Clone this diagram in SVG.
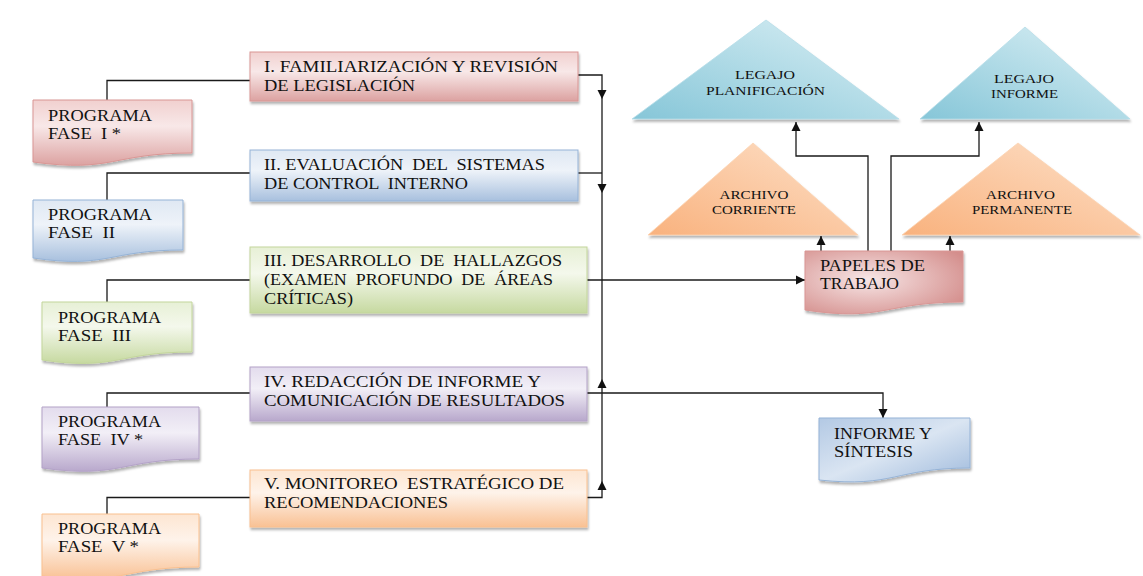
<svg xmlns="http://www.w3.org/2000/svg" width="1143" height="576" viewBox="0 0 1143 576">
<defs>
<style>
.t{font-family:"Liberation Serif","Times New Roman",serif;font-size:16px;fill:#111;}
.s{font-family:"Liberation Serif","Times New Roman",serif;font-size:13.5px;fill:#111;text-anchor:middle;}
.c{fill:none;stroke:#1a1a1a;stroke-width:1.3;}
.r{fill:url(#gRed);stroke:#d99694;stroke-width:1;filter:url(#sh);}
.b{fill:url(#gBlue);stroke:#95b3d7;stroke-width:1;filter:url(#sh);}
.g{fill:url(#gGreen);stroke:#c3d69b;stroke-width:1;filter:url(#sh);}
.p{fill:url(#gPurple);stroke:#b3a2c7;stroke-width:1;filter:url(#sh);}
.o{fill:url(#gOrange);stroke:#fac08f;stroke-width:1;filter:url(#sh);}
.aq{fill:url(#gAqua);stroke:#b6dde8;stroke-width:0.8;filter:url(#sh);}
.ot{fill:url(#gTri);stroke:#fbd4b4;stroke-width:0.8;filter:url(#sh);}
</style>
<filter id="sh" x="-10%" y="-10%" width="125%" height="135%">
<feDropShadow dx="1" dy="2.5" stdDeviation="1.2" flood-color="#000" flood-opacity="0.3"/>
</filter>
<linearGradient id="gRed" x1="0" y1="0" x2="0" y2="1"><stop offset="0" stop-color="#f1d0cf"/><stop offset="0.4" stop-color="#f8e8e8"/><stop offset="1" stop-color="#dca2a1"/></linearGradient>
<linearGradient id="gBlue" x1="0" y1="0" x2="0" y2="1"><stop offset="0" stop-color="#dfe8f3"/><stop offset="0.4" stop-color="#eef3f9"/><stop offset="1" stop-color="#a8c0de"/></linearGradient>
<linearGradient id="gGreen" x1="0" y1="0" x2="0" y2="1"><stop offset="0" stop-color="#e7f0d6"/><stop offset="0.4" stop-color="#f4f8ec"/><stop offset="1" stop-color="#c6d9a0"/></linearGradient>
<linearGradient id="gPurple" x1="0" y1="0" x2="0" y2="1"><stop offset="0" stop-color="#e3dced"/><stop offset="0.4" stop-color="#f2eff7"/><stop offset="1" stop-color="#b8a8cc"/></linearGradient>
<linearGradient id="gOrange" x1="0" y1="0" x2="0" y2="1"><stop offset="0" stop-color="#fde6d2"/><stop offset="0.4" stop-color="#fef3ea"/><stop offset="1" stop-color="#f9c194"/></linearGradient>
<linearGradient id="gAqua" x1="0" y1="1" x2="1" y2="0"><stop offset="0" stop-color="#86c6d8"/><stop offset="1" stop-color="#dcf0f5"/></linearGradient>
<linearGradient id="gTri" x1="0" y1="1" x2="1" y2="0"><stop offset="0" stop-color="#f9b27e"/><stop offset="1" stop-color="#fde0c8"/></linearGradient>
<radialGradient id="gPap" cx="0.4" cy="0.45" r="0.7"><stop offset="0" stop-color="#f7e6e6"/><stop offset="1" stop-color="#d48e8c"/></radialGradient>
<linearGradient id="gInf" x1="0" y1="0" x2="1" y2="1"><stop offset="0" stop-color="#b3c9e4"/><stop offset="0.5" stop-color="#dae5f2"/><stop offset="1" stop-color="#9fbadc"/></linearGradient>
<marker id="ar" markerUnits="userSpaceOnUse" markerWidth="10" markerHeight="10" viewBox="0 0 10 10" refX="9" refY="5" orient="auto">
<path d="M0,0.5 L9,5 L0,9.5 Z" fill="#111"/>
</marker>
</defs>
<rect width="1143" height="576" fill="#fff"/>

<g id="connectors">
<path class="c" d="M107,100 V80.5 H250"/>
<path class="c" d="M107,200 V173 H250"/>
<path class="c" d="M107,302 V280 H250"/>
<path class="c" d="M107,407 V393 H250"/>
<path class="c" d="M107,514 V497.5 H250"/>
<path class="c" d="M578,75 H602 V99" marker-end="url(#ar)"/>
<path class="c" d="M602,99 V193" marker-end="url(#ar)"/>
<path class="c" d="M602,193 V280"/>
<path class="c" d="M578,173 H602"/>
<path class="c" d="M587,497.5 H602 V481" marker-end="url(#ar)"/>
<path class="c" d="M602,481 V379" marker-end="url(#ar)"/>
<path class="c" d="M602,379 V280"/>
<path class="c" d="M587,280 H805" marker-end="url(#ar)"/>
<path class="c" d="M587,393 H883 V418" marker-end="url(#ar)"/>
<path class="c" d="M868,251 V156 H796 V122" marker-end="url(#ar)"/>
<path class="c" d="M891,251 V156 H979 V122" marker-end="url(#ar)"/>
<path class="c" d="M821,251 V236" marker-end="url(#ar)"/>
<path class="c" d="M950,251 V236" marker-end="url(#ar)"/>
</g>

<g id="fase1">
<rect class="r" x="250" y="52" width="328" height="49"/>
<text class="t" x="264" y="72" textLength="294" lengthAdjust="spacingAndGlyphs">I. FAMILIARIZACIÓN Y REVISIÓN</text>
<text class="t" x="264" y="91" textLength="151" lengthAdjust="spacingAndGlyphs">DE LEGISLACIÓN</text>
</g>
<g id="fase2">
<rect class="b" x="250" y="150" width="328" height="51"/>
<text class="t" x="264" y="170" textLength="281" lengthAdjust="spacingAndGlyphs" xml:space="preserve">II. EVALUACIÓN  DEL  SISTEMAS</text>
<text class="t" x="264" y="189" textLength="204" lengthAdjust="spacingAndGlyphs" xml:space="preserve">DE CONTROL  INTERNO</text>
</g>
<g id="fase3">
<rect class="g" x="250" y="247" width="337" height="66"/>
<text class="t" x="264" y="266" textLength="298" lengthAdjust="spacingAndGlyphs" xml:space="preserve">III. DESARROLLO  DE  HALLAZGOS</text>
<text class="t" x="264" y="285" textLength="289" lengthAdjust="spacingAndGlyphs" xml:space="preserve">(EXAMEN  PROFUNDO  DE  ÁREAS</text>
<text class="t" x="264" y="304" textLength="89" lengthAdjust="spacingAndGlyphs">CRÍTICAS)</text>
</g>
<g id="fase4">
<rect class="p" x="250" y="367" width="337" height="54"/>
<text class="t" x="264" y="387" textLength="277" lengthAdjust="spacingAndGlyphs">IV. REDACCIÓN DE INFORME Y</text>
<text class="t" x="264" y="406" textLength="301" lengthAdjust="spacingAndGlyphs">COMUNICACIÓN DE RESULTADOS</text>
</g>
<g id="fase5">
<rect class="o" x="250" y="470" width="337" height="57"/>
<text class="t" x="264" y="489" textLength="300" lengthAdjust="spacingAndGlyphs" xml:space="preserve">V. MONITOREO  ESTRATÉGICO DE</text>
<text class="t" x="264" y="508" textLength="184" lengthAdjust="spacingAndGlyphs">RECOMENDACIONES</text>
</g>

<g id="prog1">
<path class="r" d="M33,100 H192 V153 C112.5,153 112.5,173 33,162 Z"/>
<text class="t" x="48" y="121" textLength="104" lengthAdjust="spacingAndGlyphs">PROGRAMA</text>
<text class="t" x="48" y="139" textLength="73" lengthAdjust="spacingAndGlyphs" xml:space="preserve">FASE  I *</text>
</g>
<g id="prog2">
<path class="b" d="M33,200 H183 V250 C108,250 108,269 33,258 Z"/>
<text class="t" x="48" y="220" textLength="104" lengthAdjust="spacingAndGlyphs">PROGRAMA</text>
<text class="t" x="48" y="238" textLength="67" lengthAdjust="spacingAndGlyphs" xml:space="preserve">FASE  II</text>
</g>
<g id="prog3">
<path class="g" d="M42,302 H192 V352 C117,352 117,371 42,360 Z"/>
<text class="t" x="58" y="323" textLength="103" lengthAdjust="spacingAndGlyphs">PROGRAMA</text>
<text class="t" x="58" y="341" textLength="73" lengthAdjust="spacingAndGlyphs" xml:space="preserve">FASE  III</text>
</g>
<g id="prog4">
<path class="p" d="M42,407 H199 V459 C120.5,459 120.5,479 42,468 Z"/>
<text class="t" x="58" y="427" textLength="103" lengthAdjust="spacingAndGlyphs">PROGRAMA</text>
<text class="t" x="58" y="445" textLength="85" lengthAdjust="spacingAndGlyphs" xml:space="preserve">FASE  IV *</text>
</g>
<g id="prog5">
<path class="o" d="M42,514 H199 V567 C120.5,567 120.5,587 42,576 Z"/>
<text class="t" x="58" y="534" textLength="103" lengthAdjust="spacingAndGlyphs">PROGRAMA</text>
<text class="t" x="58" y="552" textLength="81" lengthAdjust="spacingAndGlyphs" xml:space="preserve">FASE  V *</text>
</g>

<g id="legajo-planificacion">
<polygon class="aq" points="766,20 899,119 632,119"/>
<text class="s" x="765" y="79" textLength="60" lengthAdjust="spacingAndGlyphs">LEGAJO</text>
<text class="s" x="765.5" y="95" textLength="119" lengthAdjust="spacingAndGlyphs">PLANIFICACIÓN</text>
</g>
<g id="legajo-informe">
<polygon class="aq" points="1025,27 1130,119 920,119"/>
<text class="s" x="1024" y="83" textLength="60" lengthAdjust="spacingAndGlyphs">LEGAJO</text>
<text class="s" x="1024.5" y="98" textLength="67" lengthAdjust="spacingAndGlyphs">INFORME</text>
</g>
<g id="archivo-corriente">
<polygon class="ot" points="753,143 858,235 648,235"/>
<text class="s" x="754" y="199" textLength="69" lengthAdjust="spacingAndGlyphs">ARCHIVO</text>
<text class="s" x="754" y="214" textLength="84" lengthAdjust="spacingAndGlyphs">CORRIENTE</text>
</g>
<g id="archivo-permanente">
<polygon class="ot" points="1018,143 1140,235 902,235"/>
<text class="s" x="1020.5" y="199" textLength="69" lengthAdjust="spacingAndGlyphs">ARCHIVO</text>
<text class="s" x="1022" y="214" textLength="100" lengthAdjust="spacingAndGlyphs">PERMANENTE</text>
</g>

<g id="papeles">
<path d="M805,251 H963 V302 C884,302 884,322 805,310 Z" fill="url(#gPap)" stroke="#d99694" stroke-width="1" filter="url(#sh)"/>
<text class="t" x="820" y="271" textLength="105" lengthAdjust="spacingAndGlyphs">PAPELES DE</text>
<text class="t" x="820" y="289" textLength="79" lengthAdjust="spacingAndGlyphs">TRABAJO</text>
</g>
<g id="informe-sintesis">
<path d="M819,418 H970 V468 C894.5,468 894.5,488 819,480 Z" fill="url(#gInf)" stroke="#95b3d7" stroke-width="1" filter="url(#sh)"/>
<text class="t" x="834" y="439" textLength="98" lengthAdjust="spacingAndGlyphs">INFORME Y</text>
<text class="t" x="834" y="457" textLength="79" lengthAdjust="spacingAndGlyphs">SÍNTESIS</text>
</g>
</svg>
